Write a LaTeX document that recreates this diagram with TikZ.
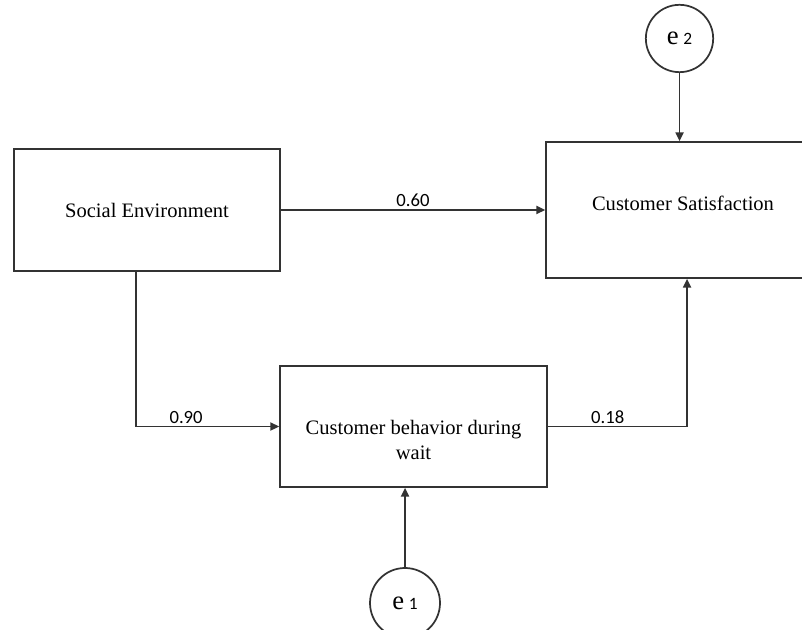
\documentclass[tikz,border=0pt]{standalone}
\usepackage{fontspec}
\setmainfont{Liberation Serif}
\newfontfamily\numfont{Carlito}
\usetikzlibrary{arrows.meta,positioning}

\begin{document}
\begin{tikzpicture}[x=0.75pt,y=-0.75pt,>={Triangle[length=6.5pt,width=6pt]},
	line/.style={draw=black!80,line width=1.3pt},
	box/.style={line,rectangle,inner sep=0pt},
	txt/.style={align=center,font=\fontsize{15.4}{18.75}\selectfont},
	err/.style={line,circle,inner sep=0pt,minimum size=#1},
	coef/.style={font=\numfont\fontsize{14}{16}\selectfont,inner sep=1.5pt}]
	\useasboundingbox (0,0) rectangle (802,630);
	\clip (0,0) rectangle (802,630);

	\node[box,txt,minimum width=199.5pt,minimum height=91.5pt] (se) at (147,210)
		{Social Environment};
	\node[box,minimum width=205.5pt,minimum height=102pt,
		label={[txt,yshift=5pt]center:Customer Satisfaction}] (cs) at (683,210) {};
	\node[box,minimum width=200.25pt,minimum height=90.75pt,
		label={[txt,yshift=-9.75pt]center:Customer behavior during\\wait}] (cb) at (413.5,426.5) {};

	\node[err=50.5pt] (e2) at (679.5,38.5)
		{\fontsize{20}{20}\selectfont e\,{\numfont\fontsize{13}{14}\selectfont 2}};
	\node[err=52.5pt] (e1) at (405,603)
		{\fontsize{20}{20}\selectfont e\,{\numfont\fontsize{13}{14}\selectfont 1}};

	\coordinate (k1) at (136,426.5);
	\coordinate (k2) at (687,426.5);

	\draw[line,->] (se) -- node[coef,above] {0.60} (cs);
	\draw[line,->] (k1 |- se.south) -- (k1) -- node[coef,above,pos=.35] {0.90} (cb.west);
	\draw[line,->] (cb.east) -- node[coef,above,pos=.43] {0.18} (k2) -- (k2 |- cs.south);
	\draw[line,->] (e2.south) -- (e2.south |- cs.north);
	\draw[line,->] (e1.north) -- (e1.north |- cb.south);
%	\draw[help lines] (0,0) grid[step=50] (802,630);
\end{tikzpicture}
\end{document}
